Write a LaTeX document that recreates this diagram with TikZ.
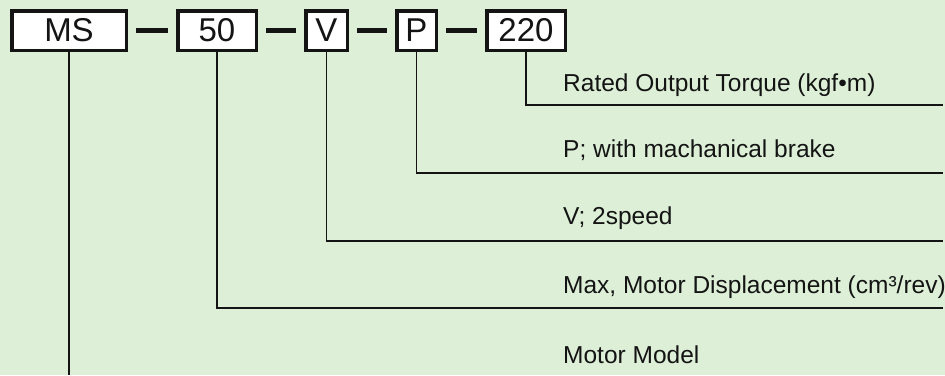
\documentclass[tikz,border=0pt]{standalone}
\usepackage{fontspec}
\setmainfont{Liberation Sans}
\definecolor{bgc}{HTML}{DDF0D7}
\definecolor{ink}{HTML}{141414}
\begin{document}
\begin{tikzpicture}[x=1pt,y=-1pt,
  codebox/.style={draw=ink,fill=white,line width=3.5pt,inner sep=0pt,
    minimum height=39.5pt,font=\fontsize{33}{37}\selectfont,text=ink},
  dashline/.style={draw=ink,line width=4.5pt},
  leader/.style={draw=ink,line width=1.6pt},
  label/.style={anchor=west,inner sep=0pt,font=\fontsize{24.5}{29}\selectfont,text=ink}]
\fill[bgc] (0,0) rectangle (945,375);
\useasboundingbox (0,0) rectangle (945,375);
% code boxes
\node[codebox,minimum width=114.5pt] (ms) at (69,30.5) {MS};
\node[codebox,minimum width=78.5pt] (n50) at (217,30.5) {50};
\node[codebox,minimum width=41.5pt] (v) at (326.5,30.5) {V};
\node[codebox,minimum width=39.5pt] (p) at (416.5,30.5) {P};
\node[codebox,minimum width=78.5pt] (n220) at (526,30.5) {220};
% dashes
\draw[dashline] ([xshift=8pt]ms.east) -- ([xshift=-8pt]n50.west);
\draw[dashline] ([xshift=8pt]n50.east) -- ([xshift=-8pt]v.west);
\draw[dashline] ([xshift=8pt]v.east) -- ([xshift=-8pt]p.west);
\draw[dashline] ([xshift=8pt]p.east) -- ([xshift=-8pt]n220.west);
% end coordinates
\coordinate (e220) at (943,105);
\coordinate (ep) at (943,173);
\coordinate (ev) at (943,241);
\coordinate (e50) at (943,308);
\coordinate (ems) at (69,375);
% leaders
\draw[leader] (n220.south) |- (e220);
\draw[leader] (p.south) |- (ep);
\draw[leader] (v.south) |- (ev);
\draw[leader] (n50.south) |- (e50);
\draw[leader] (ms.south) -- (ems);
% labels
\node[label] (l220) at (563,85) {Rated Output Torque (kgf•m)};
\node[label] (lp) at (563,150) {P; with machanical brake};
\node[label] (lv) at (563,218) {V; 2speed};
\node[label] (l50) at (563,287) {Max, Motor Displacement (cm³/rev)};
\node[label] (lms) at (563,355) {Motor Model};
\end{tikzpicture}
\end{document}
